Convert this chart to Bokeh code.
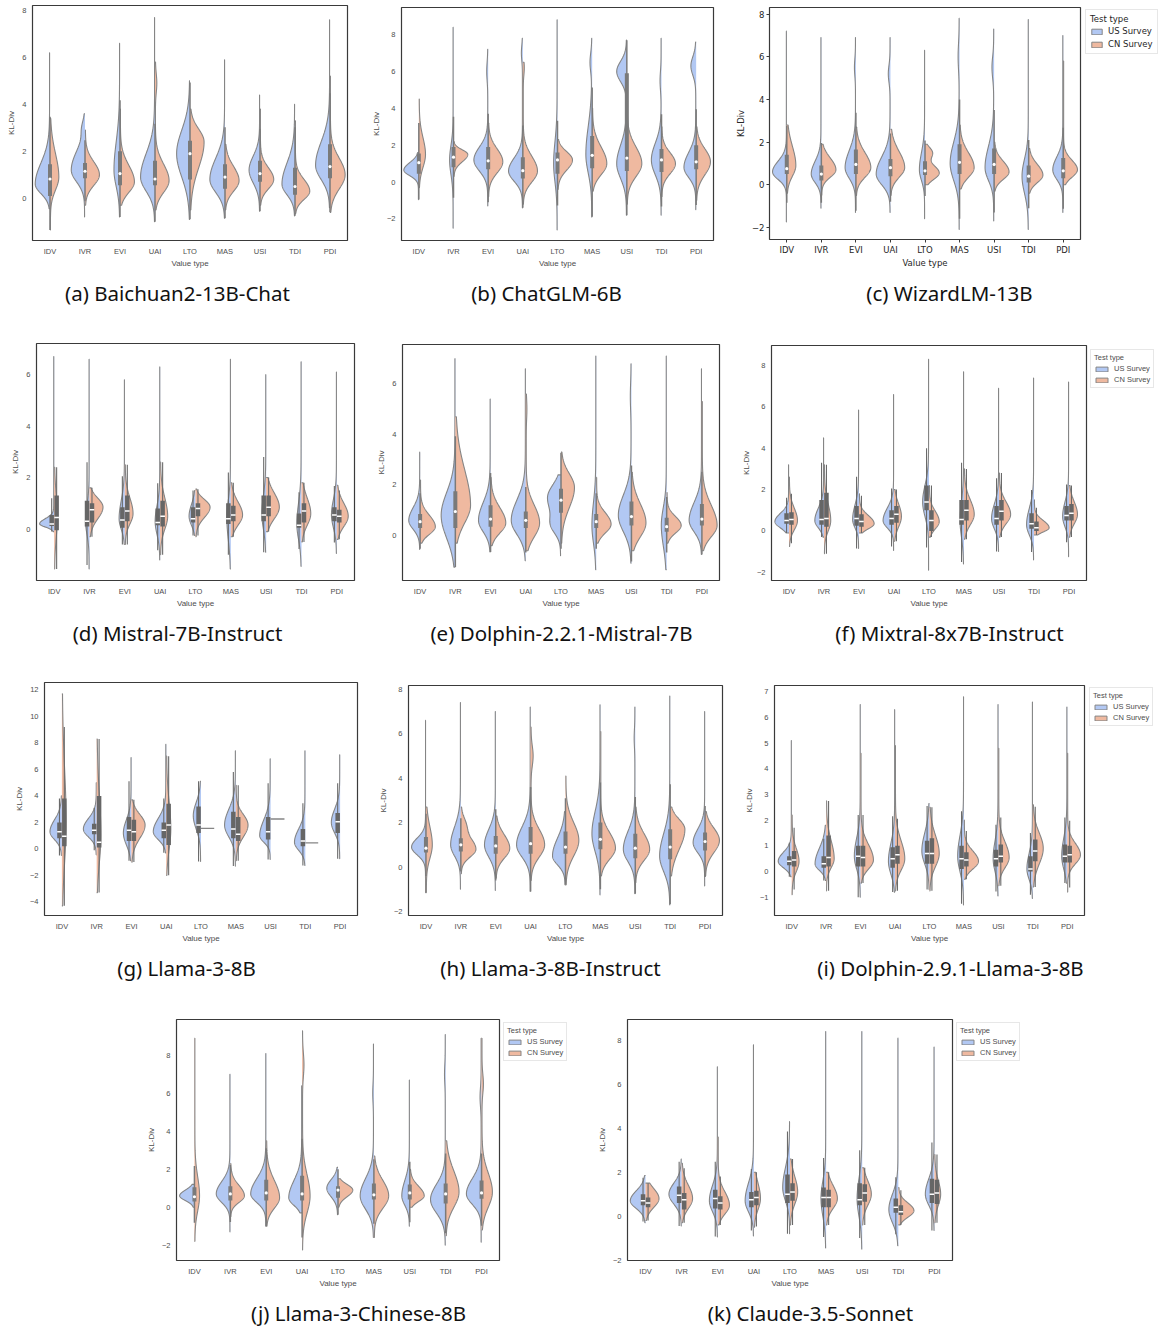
import numpy as np
from bokeh.plotting import figure
from bokeh.models import Range1d, FixedTicker, Legend, LegendItem, Spacer, ColumnDataSource
from bokeh.core.properties import value
from bokeh.layouts import column, row
from bokeh.embed import file_html
from bokeh.resources import INLINE

# ---------------- data ----------------
CATEGORIES = ["IDV", "IVR", "EVI", "UAI", "LTO", "MAS", "USI", "TDI", "PDI"]
SERIES = ["US Survey", "CN Survey"]
CAPTIONS = ["(a) Baichuan2-13B-Chat", "(b) ChatGLM-6B", "(c) WizardLM-13B",
            "(d) Mistral-7B-Instruct", "(e) Dolphin-2.2.1-Mistral-7B", "(f) Mixtral-8x7B-Instruct",
            "(g) Llama-3-8B", "(h) Llama-3-8B-Instruct", "(i) Dolphin-2.9.1-Llama-3-8B",
            "(j) Llama-3-Chinese-8B", "(k) Claude-3.5-Sonnet"]

# half-violin: (low, high, mode, half-width, spread below, spread above[, 2nd mode, 2nd width, 2nd spread])
A_US = [(-0.45, 6.2, 0.6, 0.41, 0.4, 0.9), (-0.8, 3.6, 1.2, 0.38, 0.5, 0.8, 3.0, 0.06, 0.3),
        (-0.8, 6.6, 1.2, 0.16, 0.7, 1.2), (-1.0, 7.7, 0.9, 0.40, 0.6, 1.0),
        (-0.9, 5.0, 1.9, 0.37, 1.0, 1.0), (-0.85, 5.9, 0.8, 0.42, 0.55, 0.9),
        (-0.55, 4.4, 1.2, 0.30, 0.55, 0.6), (-0.75, 4.0, 0.6, 0.36, 0.45, 0.9),
        (-0.4, 7.6, 1.4, 0.40, 0.6, 1.0)]
A_CN = [(-1.35, 3.4, 0.9, 0.24, 0.55, 1.0), (-0.3, 2.9, 1.0, 0.40, 0.45, 0.55),
        (-0.3, 3.8, 0.7, 0.40, 0.45, 0.7), (-0.5, 5.8, 0.75, 0.39, 0.5, 0.7, 4.9, 0.04, 0.4),
        (-0.5, 3.8, 2.4, 0.39, 1.1, 0.55), (-0.5, 2.3, 0.75, 0.39, 0.45, 0.6),
        (-0.3, 3.8, 0.8, 0.38, 0.4, 0.5), (-0.65, 3.3, 0.3, 0.41, 0.35, 0.5),
        (-0.6, 5.2, 1.0, 0.42, 0.6, 0.7)]
A_BOX = [(0.1, 0.82, 1.45), (0.85, 1.15, 1.5), (0.55, 1.05, 2.0), (0.55, 0.82, 1.6), (0.8, 1.9, 2.45),
         (0.4, 0.9, 1.45), (0.7, 1.05, 1.6), (0.15, 0.5, 1.3), (0.85, 1.35, 2.3)]

B_US = [(-0.95, 1.6, 0.65, 0.42, 0.3, 0.4), (-2.5, 8.4, 1.2, 0.10, 0.8, 0.8),
        (-1.3, 7.2, 1.2, 0.40, 0.6, 0.7, 6.0, 0.03, 0.5), (-1.4, 7.8, 0.6, 0.40, 0.55, 0.7, 7.0, 0.03, 0.4),
        (-2.6, 8.8, 1.0, 0.10, 1.0, 1.2), (-1.9, 7.8, 1.5, 0.17, 1.0, 1.5, 6.5, 0.05, 0.5),
        (-1.8, 7.7, 1.0, 0.28, 0.8, 1.0, 6.0, 0.28, 0.55), (-1.8, 7.8, 1.2, 0.28, 0.8, 0.9, 5.5, 0.03, 0.5),
        (-1.5, 7.6, 0.8, 0.34, 0.55, 0.8, 6.3, 0.14, 0.5)]
B_CN = [(-0.3, 4.5, 1.5, 0.18, 0.7, 0.9), (0.3, 2.2, 1.5, 0.40, 0.4, 0.25),
        (-0.8, 3.2, 1.1, 0.41, 0.6, 0.7), (-1.2, 6.5, 0.6, 0.41, 0.6, 0.8, 6.2, 0.03, 0.4),
        (-0.4, 2.3, 1.2, 0.42, 0.55, 0.45), (-0.5, 4.0, 1.0, 0.41, 0.6, 0.9),
        (-1.2, 3.8, 1.0, 0.42, 0.7, 0.9), (-0.8, 3.0, 1.0, 0.39, 0.55, 0.6),
        (-1.0, 3.0, 1.1, 0.40, 0.7, 0.7)]
B_BOX = [(0.45, 1.05, 1.55), (0.8, 1.35, 1.9), (0.7, 1.15, 1.9), (0.2, 0.62, 1.35), (0.45, 1.2, 1.6),
         (0.75, 1.45, 2.5), (0.6, 1.3, 5.9), (0.55, 1.2, 1.8), (0.7, 1.1, 2.0)]

C_US = [(-1.75, 7.2, 0.6, 0.40, 0.35, 0.5), (-1.1, 6.9, 0.5, 0.28, 0.4, 0.6),
        (-1.3, 6.9, 0.8, 0.30, 0.5, 0.8, 5.5, 0.03, 0.4), (-1.3, 6.9, 0.5, 0.40, 0.5, 0.8, 5.2, 0.05, 0.4),
        (-1.6, 6.3, 0.7, 0.15, 0.5, 0.8), (-2.1, 7.8, 1.0, 0.26, 0.8, 1.0, 6.0, 0.03, 0.6),
        (-1.7, 7.3, 0.8, 0.25, 0.6, 1.0, 5.5, 0.05, 0.5), (-2.1, 7.75, 0.4, 0.18, 0.8, 0.8),
        (-1.3, 7.0, 0.7, 0.29, 0.45, 0.6)]
C_CN = [(-0.4, 2.8, 0.9, 0.25, 0.5, 0.9), (-0.5, 1.9, 0.7, 0.41, 0.35, 0.55),
        (-0.5, 2.7, 0.8, 0.42, 0.45, 0.7), (-0.5, 2.6, 0.8, 0.40, 0.45, 0.75),
        (0.0, 1.9, 0.55, 0.40, 0.3, 0.35, 1.5, 0.2, 0.25), (-0.2, 2.8, 0.8, 0.41, 0.45, 0.7),
        (-0.3, 2.0, 0.6, 0.42, 0.35, 0.5), (-0.4, 1.7, 0.45, 0.40, 0.35, 0.5),
        (0.0, 5.8, 0.7, 0.40, 0.35, 0.45)]
C_BOX = [(0.5, 0.75, 1.4), (0.2, 0.5, 0.9), (0.5, 0.95, 1.65), (0.4, 0.8, 1.2), (0.45, 0.65, 1.1),
         (0.5, 1.05, 1.9), (0.5, 0.95, 1.7), (0.1, 0.4, 0.9), (0.3, 0.65, 1.25)]

D_US = [(-0.1, 6.7, 0.2, 0.40, 0.12, 0.2), (-1.55, 6.6, 0.3, 0.10, 0.5, 0.6),
        (-0.6, 5.8, 0.4, 0.15, 0.4, 0.7), (-1.2, 6.3, 0.3, 0.13, 0.5, 0.6),
        (-0.25, 1.5, 0.5, 0.17, 0.35, 0.45), (-1.55, 6.6, 0.4, 0.10, 0.8, 0.7),
        (-0.9, 6.0, 0.6, 0.11, 0.6, 0.7), (-1.45, 6.5, 0.2, 0.12, 0.6, 0.8),
        (-0.95, 6.1, 0.55, 0.14, 0.5, 0.6)]
D_CN = [(-1.55, 2.4, 0.5, 0.08, 0.8, 0.8), (-0.3, 1.6, 0.85, 0.37, 0.45, 0.35),
        (-0.6, 2.5, 0.6, 0.22, 0.4, 0.6), (-1.0, 2.6, 0.5, 0.20, 0.5, 0.7),
        (-0.3, 1.55, 0.85, 0.40, 0.4, 0.3), (-0.3, 1.8, 0.55, 0.32, 0.4, 0.5),
        (-0.1, 2.0, 0.85, 0.36, 0.45, 0.55), (-0.5, 1.8, 0.6, 0.25, 0.45, 0.6),
        (-0.4, 1.7, 0.5, 0.31, 0.4, 0.5)]
D_BOX_US = [(0.12, 0.2, 0.55), (0.1, 0.3, 1.1), (0.05, 0.35, 0.85), (0.15, 0.25, 0.8), (0.25, 0.4, 0.85),
            (0.2, 0.4, 1.0), (0.3, 0.55, 1.3), (0.05, 0.15, 0.6), (0.3, 0.55, 0.85)]
D_BOX_CN = [(-0.05, 0.45, 1.3), (0.25, 0.75, 1.0), (0.3, 0.7, 1.3), (0.1, 0.5, 1.1), (0.5, 0.8, 1.0),
            (0.3, 0.55, 0.9), (0.5, 0.85, 1.3), (0.25, 0.7, 1.0), (0.25, 0.5, 0.75)]

E_US = [(-0.55, 3.3, 0.6, 0.31, 0.35, 0.5), (-1.25, 7.0, 0.8, 0.39, 0.9, 0.9),
        (-0.65, 5.4, 0.6, 0.33, 0.45, 0.7), (-1.0, 6.6, 0.6, 0.40, 0.55, 0.8),
        (-0.8, 2.4, 1.5, 0.37, 0.6, 0.5, 0.4, 0.22, 0.35), (-1.35, 7.1, 0.4, 0.11, 0.7, 0.9),
        (-1.1, 6.8, 0.8, 0.36, 0.65, 0.8, 5.5, 0.02, 0.5), (-1.35, 7.1, 0.4, 0.14, 0.8, 0.7),
        (-0.75, 6.6, 0.6, 0.35, 0.45, 0.7)]
E_CN = [(-0.3, 2.2, 0.35, 0.42, 0.3, 0.45), (-0.3, 4.7, 1.2, 0.42, 0.7, 1.4),
        (-0.4, 2.3, 0.5, 0.42, 0.4, 0.6), (-0.6, 5.6, 0.5, 0.38, 0.55, 0.7, 5.0, 0.02, 0.4),
        (-0.3, 3.3, 1.9, 0.37, 0.8, 0.55), (-0.3, 2.3, 0.45, 0.41, 0.35, 0.45),
        (-0.6, 2.5, 0.5, 0.40, 0.55, 0.75), (-0.3, 1.7, 0.4, 0.40, 0.3, 0.35),
        (-0.6, 5.3, 0.4, 0.42, 0.45, 0.8)]
E_BOX = [(0.3, 0.55, 0.85), (0.3, 0.95, 1.75), (0.35, 0.65, 1.2), (0.3, 0.6, 0.95), (0.9, 1.4, 1.85),
         (0.3, 0.55, 0.85), (0.4, 0.75, 1.35), (0.15, 0.35, 0.7), (0.4, 0.65, 1.25)]

F_US = [(-0.1, 3.2, 0.45, 0.39, 0.3, 0.4), (-0.3, 4.5, 0.5, 0.25, 0.35, 0.6),
        (-0.85, 5.85, 0.55, 0.17, 0.4, 0.7), (-0.95, 6.6, 0.5, 0.30, 0.35, 0.6),
        (-1.9, 8.3, 1.4, 0.17, 0.7, 0.8), (-1.6, 7.7, 0.5, 0.10, 0.8, 0.9),
        (-1.0, 6.9, 0.6, 0.20, 0.5, 0.7), (-1.4, 7.4, 0.3, 0.20, 0.5, 0.8),
        (-1.25, 7.2, 0.7, 0.17, 0.5, 0.7)]
F_CN = [(-0.75, 2.6, 0.5, 0.23, 0.45, 0.6), (-1.1, 3.2, 0.5, 0.18, 0.5, 0.8),
        (-0.1, 1.8, 0.35, 0.42, 0.25, 0.4), (-0.5, 2.0, 0.7, 0.20, 0.5, 0.6),
        (-0.3, 2.2, 0.45, 0.28, 0.35, 0.5), (-0.4, 3.0, 0.8, 0.28, 0.5, 0.7),
        (-0.3, 2.8, 0.8, 0.32, 0.45, 0.6), (-0.2, 1.5, 0.15, 0.42, 0.2, 0.35),
        (-0.3, 2.2, 0.8, 0.23, 0.45, 0.6)]
F_BOX_US = [(0.35, 0.5, 0.85), (0.3, 0.55, 1.5), (0.25, 0.6, 1.2), (0.3, 0.6, 1.0), (1.0, 1.4, 2.2),
            (0.3, 0.55, 1.5), (0.3, 0.6, 1.2), (0.1, 0.35, 0.85), (0.5, 0.75, 1.2)]
F_BOX_CN = [(0.3, 0.55, 0.9), (0.2, 0.6, 1.85), (0.2, 0.45, 0.8), (0.4, 0.8, 1.2), (0.0, 0.5, 1.0),
            (0.5, 1.0, 1.5), (0.5, 0.95, 1.5), (0.0, 0.15, 0.45), (0.5, 0.85, 1.3)]

G_US = [(-0.5, 4.0, 1.3, 0.33, 0.6, 0.9), (-0.45, 5.0, 1.5, 0.37, 0.6, 0.8),
        (-0.9, 6.9, 1.2, 0.22, 0.9, 1.0), (-0.3, 7.9, 1.3, 0.36, 0.6, 1.0),
        (-0.95, 5.1, 2.5, 0.21, 1.0, 1.0), (-1.3, 7.4, 1.8, 0.31, 0.9, 1.2),
        (-0.8, 6.8, 1.0, 0.30, 0.5, 1.2), (-1.25, 7.4, 0.5, 0.30, 0.6, 1.0),
        (-0.75, 7.1, 2.0, 0.24, 0.8, 1.0)]
G_CN = [(-4.3, 11.7, 2.0, 0.11, 3.0, 4.0), (-3.3, 8.3, 1.0, 0.11, 2.0, 3.0),
        (-1.0, 3.7, 1.8, 0.38, 1.0, 0.8), (-2.0, 7.0, 1.5, 0.12, 1.5, 2.0),
        (1.55, 1.55, 1.55, 0.38, 0, 0), (-0.9, 4.8, 1.8, 0.34, 0.9, 0.8),
        (2.25, 2.25, 2.25, 0.40, 0, 0), (0.45, 0.45, 0.45, 0.37, 0, 0),
        None]
G_BOX_US = [(0.8, 1.3, 2.0), (1.1, 1.4, 1.9), (0.6, 1.4, 2.4), (0.8, 1.4, 2.0), (1.2, 1.8, 3.2),
            (0.8, 1.5, 2.8), (0.7, 1.3, 2.4), (0.2, 0.6, 1.5), (1.2, 2.05, 2.7)]
G_BOX_CN = [(0.2, 0.95, 3.8), (0.1, 0.5, 4.0), (0.6, 1.3, 2.2), (0.3, 1.8, 3.4), None,
            (0.6, 1.1, 2.4), None, None, None]

H_US = [(-1.15, 6.6, 0.9, 0.40, 0.35, 0.4), (-1.0, 7.4, 1.0, 0.28, 0.5, 0.8),
        (-1.05, 7.0, 1.0, 0.31, 0.55, 0.7), (-1.1, 7.2, 1.0, 0.39, 0.55, 0.8),
        (-0.8, 2.5, 0.5, 0.36, 0.4, 0.8), (-1.25, 7.3, 1.5, 0.23, 0.8, 1.0),
        (-1.2, 7.2, 0.8, 0.33, 0.55, 0.8, 5.8, 0.02, 0.4), (-1.7, 7.7, 0.5, 0.29, 0.7, 1.0),
        (-0.85, 7.0, 1.1, 0.33, 0.45, 0.6)]
H_CN = [(-1.15, 2.7, 1.0, 0.17, 0.6, 0.8), (-0.3, 2.7, 0.8, 0.42, 0.35, 0.5, 1.9, 0.12, 0.35),
        (-0.5, 2.3, 0.85, 0.39, 0.45, 0.6), (-0.6, 6.3, 1.0, 0.39, 0.55, 0.7, 5.0, 0.06, 0.45),
        (-0.8, 4.1, 1.2, 0.37, 0.7, 0.8), (-0.4, 6.1, 0.85, 0.42, 0.5, 0.7),
        (-0.7, 2.7, 0.8, 0.40, 0.5, 0.7), (-0.4, 2.7, 1.7, 0.41, 0.9, 0.45),
        (-0.4, 2.5, 1.2, 0.40, 0.55, 0.55)]
H_BOX = [(0.65, 0.85, 1.35), (0.7, 1.0, 1.3), (0.6, 0.95, 1.4), (0.6, 1.05, 1.8), (0.6, 0.9, 1.6),
         (0.8, 1.25, 2.0), (0.4, 0.85, 1.5), (0.35, 0.9, 1.7), (0.75, 1.15, 1.55)]

I_US = [(-0.2, 5.1, 0.4, 0.38, 0.25, 0.35), (-0.35, 1.8, 0.3, 0.31, 0.25, 0.6),
        (-1.0, 6.5, 0.6, 0.17, 0.5, 0.7), (-0.8, 6.3, 0.4, 0.18, 0.5, 0.7),
        (-0.7, 2.65, 0.8, 0.21, 0.5, 0.7), (-1.3, 6.8, 0.6, 0.17, 0.6, 0.8),
        (-0.95, 6.5, 0.5, 0.14, 0.5, 0.7), (-1.05, 6.6, 0.1, 0.16, 0.4, 0.6),
        (-0.45, 6.4, 0.6, 0.15, 0.5, 0.7)]
I_CN = [(-0.9, 2.2, 0.4, 0.20, 0.4, 0.5), (-0.75, 2.75, 0.5, 0.22, 0.35, 0.7),
        (-0.45, 4.6, 0.45, 0.36, 0.35, 0.6), (-0.75, 4.9, 0.5, 0.27, 0.45, 0.7),
        (-0.75, 2.5, 0.7, 0.27, 0.5, 0.7), (-0.3, 2.0, 0.4, 0.41, 0.3, 0.4),
        (-0.55, 4.8, 0.55, 0.30, 0.4, 0.6), (-0.6, 2.6, 0.9, 0.29, 0.6, 0.6),
        (-0.8, 4.6, 0.65, 0.37, 0.35, 0.45)]
I_BOX_US = [(0.25, 0.4, 0.6), (0.15, 0.3, 0.6), (0.2, 0.6, 1.0), (0.15, 0.5, 0.95), (0.3, 0.7, 1.2),
            (0.1, 0.5, 1.0), (0.2, 0.5, 0.85), (0.0, 0.1, 0.6), (0.35, 0.6, 1.05)]
I_BOX_CN = [(0.2, 0.45, 0.8), (0.2, 0.55, 1.4), (0.2, 0.55, 1.0), (0.3, 0.65, 1.0), (0.3, 0.7, 1.3),
            (0.2, 0.45, 0.75), (0.35, 0.6, 1.05), (0.4, 0.8, 1.25), (0.35, 0.65, 1.0)]

J_US = [(0.0, 1.2, 0.6, 0.40, 0.25, 0.3), (-1.3, 7.0, 0.7, 0.38, 0.45, 0.65),
        (-1.0, 8.1, 0.7, 0.42, 0.45, 0.8), (-0.3, 6.4, 0.5, 0.36, 0.4, 0.9),
        (-0.4, 2.1, 1.0, 0.30, 0.45, 0.45), (-1.6, 8.6, 0.6, 0.37, 0.7, 0.9, 6.0, 0.02, 0.5),
        (-1.0, 6.7, 0.6, 0.21, 0.5, 0.8), (-2.0, 9.1, 0.4, 0.41, 0.7, 0.8, 7.0, 0.02, 0.5),
        (-1.85, 8.9, 0.7, 0.41, 0.55, 0.8, 5.8, 0.03, 0.5)]
J_CN = [(-1.8, 8.9, 0.6, 0.13, 0.8, 1.0), (-0.5, 2.3, 0.6, 0.38, 0.35, 0.55),
        (-1.0, 3.5, 0.5, 0.36, 0.55, 0.9), (-2.25, 9.3, 0.6, 0.21, 0.9, 1.1, 7.5, 0.04, 0.6),
        (0.0, 1.5, 0.9, 0.40, 0.35, 0.3), (-1.6, 2.7, 0.6, 0.40, 0.65, 0.8),
        (0.0, 2.0, 0.6, 0.39, 0.3, 0.5), (-1.5, 3.5, 0.8, 0.36, 0.8, 1.1),
        (-1.2, 8.9, 0.8, 0.29, 0.8, 1.0, 6.5, 0.04, 0.5)]
J_BOX = [(0.3, 0.55, 1.05), (0.35, 0.7, 1.1), (0.35, 0.75, 1.45), (0.35, 0.7, 1.65), (0.5, 0.9, 1.1),
         (0.4, 0.65, 1.25), (0.4, 0.75, 1.2), (0.2, 0.7, 1.25), (0.45, 0.75, 1.4)]

K_US = [(-0.3, 1.85, 0.7, 0.41, 0.35, 0.45), (-0.45, 2.6, 1.0, 0.34, 0.45, 0.5),
        (-0.95, 6.8, 0.7, 0.22, 0.5, 0.7), (-0.9, 7.8, 0.7, 0.23, 0.5, 0.8),
        (-0.8, 4.3, 1.3, 0.19, 0.6, 0.9), (-1.45, 8.4, 0.8, 0.13, 0.8, 0.8),
        (-1.5, 8.4, 0.8, 0.13, 0.8, 0.9), (-1.35, 8.1, 0.3, 0.25, 0.6, 0.7),
        (-0.65, 7.7, 1.0, 0.24, 0.5, 0.7)]
K_CN = [(-0.2, 1.5, 0.8, 0.36, 0.4, 0.45), (-0.3, 2.4, 0.8, 0.29, 0.45, 0.6),
        (-0.4, 3.6, 0.5, 0.31, 0.4, 0.6), (-0.5, 2.0, 0.8, 0.17, 0.5, 0.7),
        (-0.4, 2.6, 1.1, 0.20, 0.55, 0.7), (-0.4, 2.0, 0.8, 0.30, 0.45, 0.6),
        (-0.4, 2.2, 1.0, 0.24, 0.5, 0.6), (-0.4, 1.3, 0.25, 0.42, 0.3, 0.35),
        (-0.3, 2.8, 1.0, 0.16, 0.5, 0.6)]
K_BOX_US = [(0.5, 0.7, 1.0), (0.6, 0.95, 1.35), (0.35, 0.8, 1.2), (0.4, 0.75, 1.1), (0.6, 1.0, 1.9),
            (0.4, 0.85, 1.3), (0.5, 0.75, 1.5), (0.15, 0.4, 0.8), (0.6, 1.0, 1.7)]
K_BOX_CN = [(0.4, 0.6, 0.85), (0.3, 0.75, 1.05), (0.3, 0.6, 0.9), (0.5, 0.85, 1.15), (0.7, 1.1, 1.5),
            (0.4, 0.85, 1.2), (0.65, 1.05, 1.45), (0.05, 0.2, 0.5), (0.55, 1.05, 1.65)]

Y_TICKS_A = [0, 2, 4, 6, 8]
Y_TICKS_B = [-2, 0, 2, 4, 6, 8]
Y_TICKS_D = [0, 2, 4, 6]
Y_TICKS_G = [-4, -2, 0, 2, 4, 6, 8, 10, 12]
Y_TICKS_I = [-1, 0, 1, 2, 3, 4, 5, 6, 7]

# ---------------- styles / layout ----------------
US_FILL = "#b2c8f3"
CN_FILL = "#efb9a0"
EDGE = "#858585"
TAIL = 0.012
PAGE_W = 1167

# mb = (left, right, top, bottom) borders around each plot frame; leg = (legend strip width, legend top)
PANELS = [
    dict(us=A_US, cn=A_CN, box=A_BOX, yr=(-1.8, 8.21), yt=Y_TICKS_A, w=365, h=275, mb=(32, 18, 5, 35), leg=None, mpl=False),
    dict(us=B_US, cn=B_CN, box=B_BOX, yr=(-3.17, 9.47), yt=Y_TICKS_B, w=365, h=275, mb=(36, 17, 7, 35), leg=None, mpl=False),
    dict(us=C_US, cn=C_CN, box=C_BOX, yr=(-2.57, 8.31), yt=Y_TICKS_B, w=354, h=275, mb=(39, 4, 7, 36), leg=(83, 11), mpl=True),
    dict(us=D_US, cn=D_CN, box_us=D_BOX_US, box_cn=D_BOX_CN, yr=(-2.0, 7.21), yt=Y_TICKS_D, w=365, h=275, mb=(36, 11, 8, 28), leg=None, mpl=False),
    dict(us=E_US, cn=E_CN, box=E_BOX, yr=(-1.78, 7.56), yt=Y_TICKS_D, w=365, h=275, mb=(37, 11, 9, 30), leg=None, mpl=False),
    dict(us=F_US, cn=F_CN, box_us=F_BOX_US, box_cn=F_BOX_CN, yr=(-2.4, 8.97), yt=Y_TICKS_B, w=359, h=275, mb=(41, 3, 10, 30), leg=(78, 16), mpl=False),
    dict(us=G_US, cn=G_CN, box_us=G_BOX_US, box_cn=G_BOX_CN, yr=(-5.03, 12.56), yt=Y_TICKS_G, w=365, h=275, mb=(44, 8, 12, 30), leg=None, mpl=False),
    dict(us=H_US, cn=H_CN, box=H_BOX, yr=(-2.18, 8.17), yt=Y_TICKS_B, w=365, h=275, mb=(43, 8, 15, 26), leg=None, mpl=False),
    dict(us=I_US, cn=I_CN, box_us=I_BOX_US, box_cn=I_BOX_CN, yr=(-1.71, 7.24), yt=Y_TICKS_I, w=358, h=275, mb=(44, 4, 15, 29), leg=(79, 19), mpl=False),
    dict(us=J_US, cn=J_CN, box=J_BOX, yr=(-2.81, 9.89), yt=Y_TICKS_B, w=362, h=285, mb=(36, 3, 14, 30), leg=(88, 19), mpl=False),
    dict(us=K_US, cn=K_CN, box_us=K_BOX_US, box_cn=K_BOX_CN, yr=(-2.02, 8.95), yt=Y_TICKS_B, w=365, h=285, mb=(37, 3, 14, 30), leg=(85, 19), mpl=False),
]

# caption strips: (strip height, text centre offset, [(caption index, centre x), ...])
CAPTION_ROWS = [
    (60, 17, [(0, 177), (1, 546), (2, 949)]),
    (60, 22, [(3, 177), (4, 561), (5, 949)]),
    (60, 22, [(6, 186), (7, 550), (8, 950)]),
    (40, 22, [(9, 358), (10, 810)]),
]


def half_shape(spec, center, side):
    lo, hi, m, W, sl, su = spec[:6]
    ys = np.linspace(lo, hi, 260)
    s = np.where(ys < m, sl, su)
    w = W * np.exp(-0.5 * ((ys - m) / s) ** 2)
    if len(spec) > 6:
        m2, W2, s2 = spec[6:9]
        w = w + W2 * np.exp(-0.5 * ((ys - m2) / s2) ** 2)
    w = w + TAIL
    xs = center + side * w
    return [center] + list(xs) + [center], [lo] + list(ys) + [hi]


def whisker(q1, q3, lo, hi):
    iqr = q3 - q1
    return max(lo, q1 - 1.5 * iqr), min(hi, q3 + 1.5 * iqr)


def build(cfg):
    ml, mr, mt, mbm = cfg["mb"]
    mpl = cfg["mpl"]
    p = figure(width=cfg["w"], height=cfg["h"], x_range=Range1d(-0.5, 8.5),
               y_range=Range1d(*cfg["yr"]), output_backend="svg", toolbar_location=None,
               min_border_left=ml, min_border_right=mr, min_border_top=mt, min_border_bottom=mbm,
               frame_align=False)
    p.grid.visible = False
    p.outline_line_color = "#3a3a3a"
    p.outline_line_width = 1.2
    p.background_fill_color = "white"
    p.border_fill_color = "white"

    font = "DejaVu Sans" if mpl else "Liberation Sans"
    fs = "8.5px" if mpl else "7.5px"
    tcol = "#262626" if mpl else "#4d4d4d"
    for ax in (p.xaxis[0], p.yaxis[0]):
        ax.axis_line_color = None
        ax.minor_tick_line_color = None
        ax.major_label_text_font = font
        ax.major_label_text_font_size = fs
        ax.major_label_text_color = tcol
        ax.axis_label_text_font = font
        ax.axis_label_text_font_size = "8.5px" if mpl else "8px"
        ax.axis_label_text_font_style = "normal"
        ax.axis_label_text_color = tcol
        if mpl:
            ax.major_tick_out = 3
            ax.major_tick_in = 0
            ax.major_tick_line_color = "#3a3a3a"
            ax.major_label_standoff = 2
        else:
            ax.major_tick_line_color = None
            ax.major_tick_out = 0
            ax.major_tick_in = 0
            ax.major_label_standoff = 6
    p.xaxis[0].axis_label_standoff = 0
    p.yaxis[0].axis_label_standoff = 3
    p.xaxis.ticker = FixedTicker(ticks=list(range(len(CATEGORIES))))
    p.xaxis.major_label_overrides = {i: c for i, c in enumerate(CATEGORIES)}
    p.xaxis.axis_label = "Value type"
    p.yaxis.ticker = FixedTicker(ticks=cfg["yt"])
    p.yaxis.major_label_overrides = {t: (("\u2212" + str(-t)) if t < 0 else str(t)) for t in cfg["yt"]}
    p.yaxis.axis_label = "KL-Div"

    for side, key, fill in ((-1, "us", US_FILL), (1, "cn", CN_FILL)):
        pxs, pys = [], []
        flat = dict(x0=[], x1=[], y=[])
        for i, spec in enumerate(cfg[key]):
            if spec is None:
                continue
            if spec[0] == spec[1]:
                flat["x0"].append(i)
                flat["x1"].append(i + side * spec[3])
                flat["y"].append(spec[0])
                continue
            xs, ys = half_shape(spec, i, side)
            pxs.append(xs)
            pys.append(ys)
        src = ColumnDataSource(dict(xs=pxs, ys=pys))
        p.patches("xs", "ys", source=src, fill_color=fill, line_color=None)
        p.multi_line("xs", "ys", source=src, line_color=EDGE, line_width=1.1)
        if flat["y"]:
            p.segment(x0=flat["x0"], y0=flat["y"], x1=flat["x1"], y1=flat["y"],
                      line_color=EDGE, line_width=1.4)

    if "box" in cfg:
        bx, q1s, q3s, wl, wh, meds = [], [], [], [], [], []
        for i, (q1, med, q3) in enumerate(cfg["box"]):
            lo = min(s[0] for s in (cfg["us"][i], cfg["cn"][i]) if s is not None)
            hi = max(s[1] for s in (cfg["us"][i], cfg["cn"][i]) if s is not None)
            a, b = whisker(q1, q3, lo, hi)
            bx.append(i); q1s.append(q1); q3s.append(q3); wl.append(a); wh.append(b); meds.append(med)
        p.segment(x0=bx, y0=wl, x1=bx, y1=wh, line_color="#7a7a7a", line_width=1.5)
        p.segment(x0=bx, y0=q1s, x1=bx, y1=q3s, line_color="#7a7a7a", line_width=4, line_cap="butt")
        p.scatter(bx, meds, marker="circle", size=3.2, fill_color="white", line_color=None)
    else:
        for side, key, bkey in ((-1, "us", "box_us"), (1, "cn", "box_cn")):
            bx, q1s, q3s, wl, wh, meds = [], [], [], [], [], []
            for i, b in enumerate(cfg[bkey]):
                if b is None:
                    continue
                q1, med, q3 = b
                spec = cfg[key][i]
                a, c = whisker(q1, q3, spec[0], spec[1])
                x = i + side * 0.07
                bx.append(x); q1s.append(q1); q3s.append(q3); wl.append(a); wh.append(c); meds.append(med)
            p.segment(x0=bx, y0=wl, x1=bx, y1=wh, line_color="#6a6a6a", line_width=1.1)
            p.segment(x0=bx, y0=q1s, x1=bx, y1=q3s, line_color="#666666", line_width=4.5, line_cap="butt")
            p.segment(x0=[x - 0.065 for x in bx], y0=meds, x1=[x + 0.065 for x in bx], y1=meds,
                      line_color="white", line_width=1.5)
    return p


def legend_strip(cfg):
    lw, top = cfg["leg"]
    h = cfg["h"]
    mpl = cfg["mpl"]
    f = figure(width=lw, height=h, x_range=Range1d(0, 1), y_range=Range1d(0, 1),
               output_backend="svg", toolbar_location=None, min_border=0,
               x_axis_type=None, y_axis_type=None, frame_align=False)
    f.grid.visible = False
    f.outline_line_color = None
    f.background_fill_color = "white"
    f.border_fill_color = "white"
    # swatch renderers for the legend: one tiny shape each, kept outside the visible range
    r_us = f.patches(xs=[[5, 5.1, 5.1]], ys=[[5, 5, 5.1]], fill_color=US_FILL, line_color=EDGE, line_width=1)
    r_cn = f.patches(xs=[[5, 5.1, 5.1]], ys=[[5, 5, 5.1]], fill_color=CN_FILL, line_color=EDGE, line_width=1)
    font = "DejaVu Sans" if mpl else "Liberation Sans"
    tcol = "#262626" if mpl else "#4d4d4d"
    lfs = "8.5px" if mpl else "7.5px"
    lh = 43 if mpl else 37
    leg = Legend(items=[LegendItem(label=SERIES[0], renderers=[r_us]),
                        LegendItem(label=SERIES[1], renderers=[r_cn])],
                 location=(1, h - top - lh))
    leg.title = "Test type"
    leg.title_text_font = font
    leg.title_text_font_size = lfs
    leg.title_text_font_style = "normal"
    leg.title_text_color = tcol
    leg.title_standoff = 2
    leg.label_text_font = font
    leg.label_text_font_size = lfs
    leg.label_text_color = tcol
    leg.glyph_width = 13 if mpl else 15
    leg.glyph_height = 7 if mpl else 6
    leg.label_height = 10 if mpl else 8
    leg.label_standoff = 5
    leg.spacing = 3 if mpl else 2
    leg.padding = 4 if mpl else 3
    leg.margin = 0
    leg.border_line_color = "#cfcfcf"
    leg.border_line_width = 1
    leg.background_fill_color = "white"
    leg.background_fill_alpha = 1.0
    f.add_layout(leg)
    return f


def caption_strip(h, base, items):
    s = figure(width=PAGE_W, height=h, x_range=Range1d(0, PAGE_W), y_range=Range1d(h, 0),
               output_backend="svg", toolbar_location=None, min_border=0,
               x_axis_type=None, y_axis_type=None, frame_align=False)
    s.grid.visible = False
    s.outline_line_color = None
    s.background_fill_color = "white"
    s.border_fill_color = "white"
    s.text(x=[cx for _, cx in items], y=[base] * len(items), text=[CAPTIONS[i] for i, _ in items],
           text_align="center", text_baseline="middle", text_font=value("Noto Sans"),
           text_font_size=value("20.5px"), text_color="#111111")
    return s


def cell(cfg):
    p = build(cfg)
    if cfg["leg"] is None:
        return [p]
    return [p, legend_strip(cfg)]


cells = [cell(c) for c in PANELS]
strips = [caption_strip(*r) for r in CAPTION_ROWS]
layout = column(
    row(*cells[0], *cells[1], *cells[2], spacing=0),
    strips[0],
    row(*cells[3], *cells[4], *cells[5], spacing=0),
    strips[1],
    row(*cells[6], *cells[7], *cells[8], spacing=0),
    strips[2],
    row(Spacer(width=140, height=285), *cells[9], *cells[10], spacing=0),
    strips[3],
    spacing=0,
)

open("out.html", "w").write(file_html(layout, INLINE))
